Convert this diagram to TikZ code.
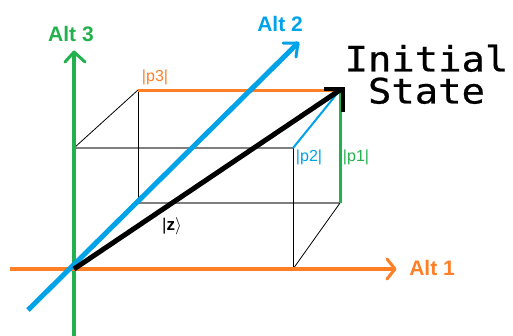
\documentclass[tikz,border=0pt]{standalone}
\usepackage{fontspec}
\setmainfont{Liberation Sans}
\newfontfamily\monofont[FakeStretch=1.11,FakeBold=0.6]{DejaVu Sans Mono}
\definecolor{paintorange}{HTML}{FF7F27}
\definecolor{paintgreen}{HTML}{22B14C}
\definecolor{paintblue}{HTML}{00A2E8}
\definecolor{paintgray}{HTML}{7F7F7F}
\begin{document}
\begin{tikzpicture}[x=1pt,y=-1pt,
  thinline/.style={black,line width=0.8pt},
  grayline/.style={paintgray,line width=1.8pt},
  axislab/.style={font=\fontsize{21}{24}\selectfont\bfseries,inner sep=0pt},
  plab/.style={font=\fontsize{16}{18}\selectfont,inner sep=0pt},
  chev/.style={line width=3pt,line cap=round,line join=round}]
\useasboundingbox (0,0) rectangle (513,335);
% coordinates
\coordinate (O) at (74,269);
\coordinate (xs) at (10,269);
\coordinate (xe) at (395,269);
\coordinate (ys) at (74,336);
\coordinate (ye) at (74,52);
\coordinate (zs) at (28,310);
\coordinate (ze) at (298,43);
\coordinate (A) at (74,148);
\coordinate (B) at (293,148);
\coordinate (C) at (293,269);
\coordinate (D) at (138,90);
\coordinate (E) at (340,90);
\coordinate (F) at (340,203);
\coordinate (G) at (138,203);
% box
\draw[grayline] (A) -- (B);
\draw[grayline] (G) -- (F);
\draw[thinline] (B) -- (C);
\draw[thinline] (D) -- (G);
\draw[thinline] (A) -- (D);
\draw[thinline] (C) -- (F);
\draw[paintblue,line width=2pt] (B) -- (E);
\draw[paintorange,line width=3pt] (D) -- (E);
\draw[paintgreen,line width=3pt] (E) -- (F);
% axes
\draw[paintgreen,line width=4.5pt] (ys) -- (ye);
\draw[paintgreen,chev] (65,62) -- (ye) -- (85,62);
\draw[paintorange,line width=4.5pt] (xs) -- (xe);
\draw[paintorange,chev] (387,259) -- (xe) -- (387,279);
\draw[paintblue,line width=5pt] (zs) -- (ze);
\draw[paintblue,chev] (283,43) -- (ze) -- (296,57);
% state vector
\draw[black,line width=5pt] (O) -- (E);
\draw[black,line width=4pt] (324,89) -- (343,89) -- (343,112);
% labels
\node[axislab,text=paintorange] (l1) at (432,268) {Alt 1};
\node[axislab,text=paintblue] (l2) at (280,24) {Alt 2};
\node[axislab,text=paintgreen] (l3) at (71,34) {Alt 3};
\node[plab,text=paintorange] (p3) at (155,77) {|p3|};
\node[plab,text=paintblue] (p2) at (309,157) {|p2|};
\node[plab,text=paintgreen] (p1) at (356,157) {|p1|};
\node[font=\fontsize{17}{18}\selectfont,inner sep=0pt,text=black] (zl) at (172,226) {|\textbf{z}$\rangle$};
\node[font=\monofont\fontsize{35}{32}\selectfont,align=center,anchor=north,inner sep=0pt] (st) at (426.5,44.5) {Initial\\State};
\end{tikzpicture}
\end{document}
